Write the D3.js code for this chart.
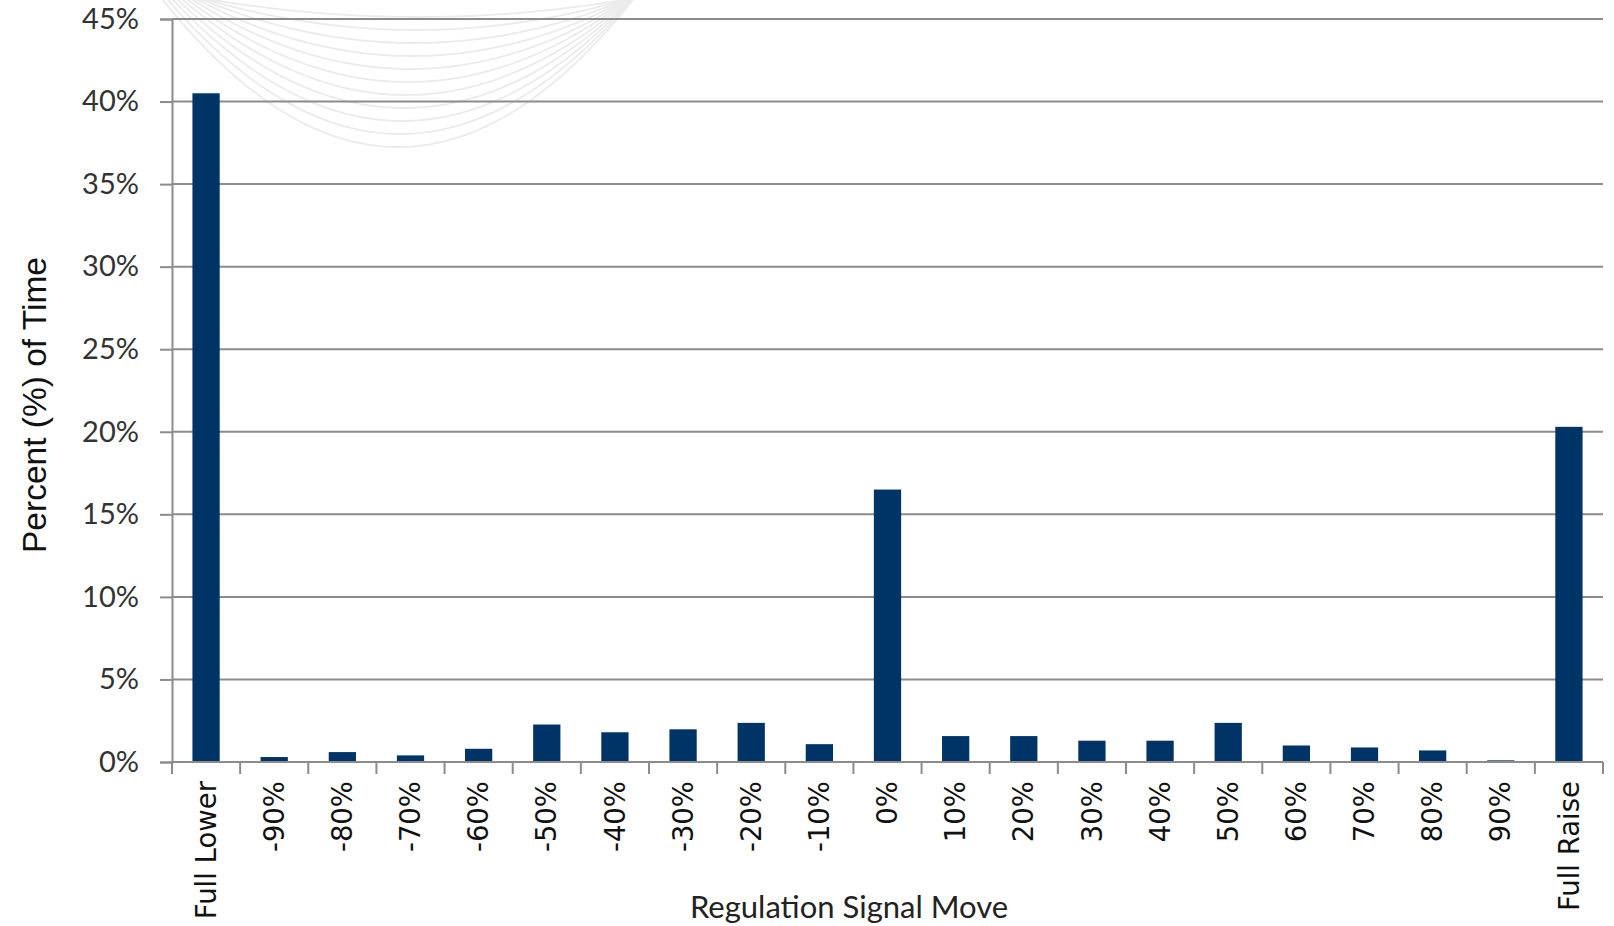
<!DOCTYPE html>
<html>
<head>
<meta charset="utf-8">
<script src="https://cdn.jsdelivr.net/npm/d3@7"></script>
<style>
html,body{margin:0;padding:0;background:#fff;}
svg{display:block;}
</style>
</head>
<body>
<svg id="chart" width="1614" height="926"></svg>
<script>
const categories = ["Full Lower","-90%","-80%","-70%","-60%","-50%","-40%","-30%","-20%","-10%","0%","10%","20%","30%","40%","50%","60%","70%","80%","90%","Full Raise"];
const values = [40.5,0.3,0.6,0.4,0.8,2.27,1.8,1.98,2.37,1.08,16.5,1.57,1.57,1.29,1.29,2.37,1.0,0.88,0.7,0.1,20.3];
const yTicks = [0,5,10,15,20,25,30,35,40,45];
const yTitle = "Percent (%) of Time";
const xTitle = "Regulation Signal Move";

(function(){
const svg = d3.select("#chart");
const pLeft = 172, pRight = 1603, pTop = 19, pBottom = 762;

// decorative watermark arcs
const wm = svg.append("g").attr("fill","none").attr("stroke","#ebebeb").attr("stroke-width",1.8);
const depths = d3.range(11).map(i => 147 - i*13);
depths.forEach((d,i) => {
  const cx = 398 + i*2, hw = 235 - i*3;
  const pts = d3.range(-1.05, 1.051, 0.02).map(t => [cx + t*hw, d*(1 - t*t)]);
  wm.append("path").attr("d", d3.line()(pts));
});

const x = d3.scaleBand().domain(categories).range([pLeft, pRight]).paddingInner(0.6).paddingOuter(0.3);
const y = d3.scaleLinear().domain([0,45]).range([pBottom, pTop]);

// gridlines
svg.append("g").selectAll("line").data(yTicks.filter(t=>t>0)).join("line")
  .attr("x1", pLeft).attr("x2", pRight)
  .attr("y1", d=>y(d)).attr("y2", d=>y(d))
  .attr("stroke","#8c8c8c").attr("stroke-width",2);

// y axis
const yAxis = svg.append("g").attr("transform",`translate(${pLeft},0)`)
  .call(d3.axisLeft(y).tickValues(yTicks).tickSize(12).tickPadding(21).tickFormat(d=>d+"%"));
yAxis.select(".domain").attr("stroke","#8c8c8c").attr("stroke-width",2);
yAxis.selectAll(".tick line").attr("stroke","#8c8c8c").attr("stroke-width",2);
yAxis.selectAll(".tick text").attr("font-family","Lato, 'Open Sans', sans-serif").attr("font-size",29).attr("fill","#333");

// bars
svg.append("g").selectAll("rect").data(categories).join("rect")
  .attr("x", d=>x(d)).attr("width", x.bandwidth())
  .attr("y", (d,i)=>y(values[i])).attr("height",(d,i)=>pBottom - y(values[i]))
  .attr("fill","#003366");

// x axis
const step = x.step();
const boundaries = d3.range(categories.length+1).map(i => pLeft + i*step);
const xAxis = svg.append("g");
xAxis.append("line").attr("x1",pLeft).attr("x2",pRight).attr("y1",pBottom).attr("y2",pBottom)
  .attr("stroke","#8c8c8c").attr("stroke-width",2);
xAxis.selectAll("line.tk").data(boundaries).join("line").attr("class","tk")
  .attr("x1",d=>d).attr("x2",d=>d).attr("y1",pBottom).attr("y2",pBottom+12)
  .attr("stroke","#8c8c8c").attr("stroke-width",2);
xAxis.selectAll("text").data(categories).join("text")
  .attr("transform", d=>`translate(${x(d)+x.bandwidth()/2},${pBottom+19}) rotate(-90)`)
  .attr("text-anchor","end").attr("dy","0.35em")
  .attr("font-family","'DejaVu Sans', Verdana, sans-serif").attr("font-size",27.5).attr("fill","#111")
  .text(d=>d);

// titles
svg.append("text").attr("transform","translate(34,405) rotate(-90)")
  .attr("text-anchor","middle").attr("dy","0.35em")
  .attr("font-family","'Liberation Sans', Arial, sans-serif").attr("font-size",33.5).attr("fill","#111")
  .text(yTitle);
svg.append("text").attr("x",849).attr("y",918)
  .attr("text-anchor","middle")
  .attr("font-family","Lato, 'Open Sans', sans-serif").attr("font-size",31).attr("fill","#222")
  .text(xTitle);
})();
</script>
</body>
</html>
